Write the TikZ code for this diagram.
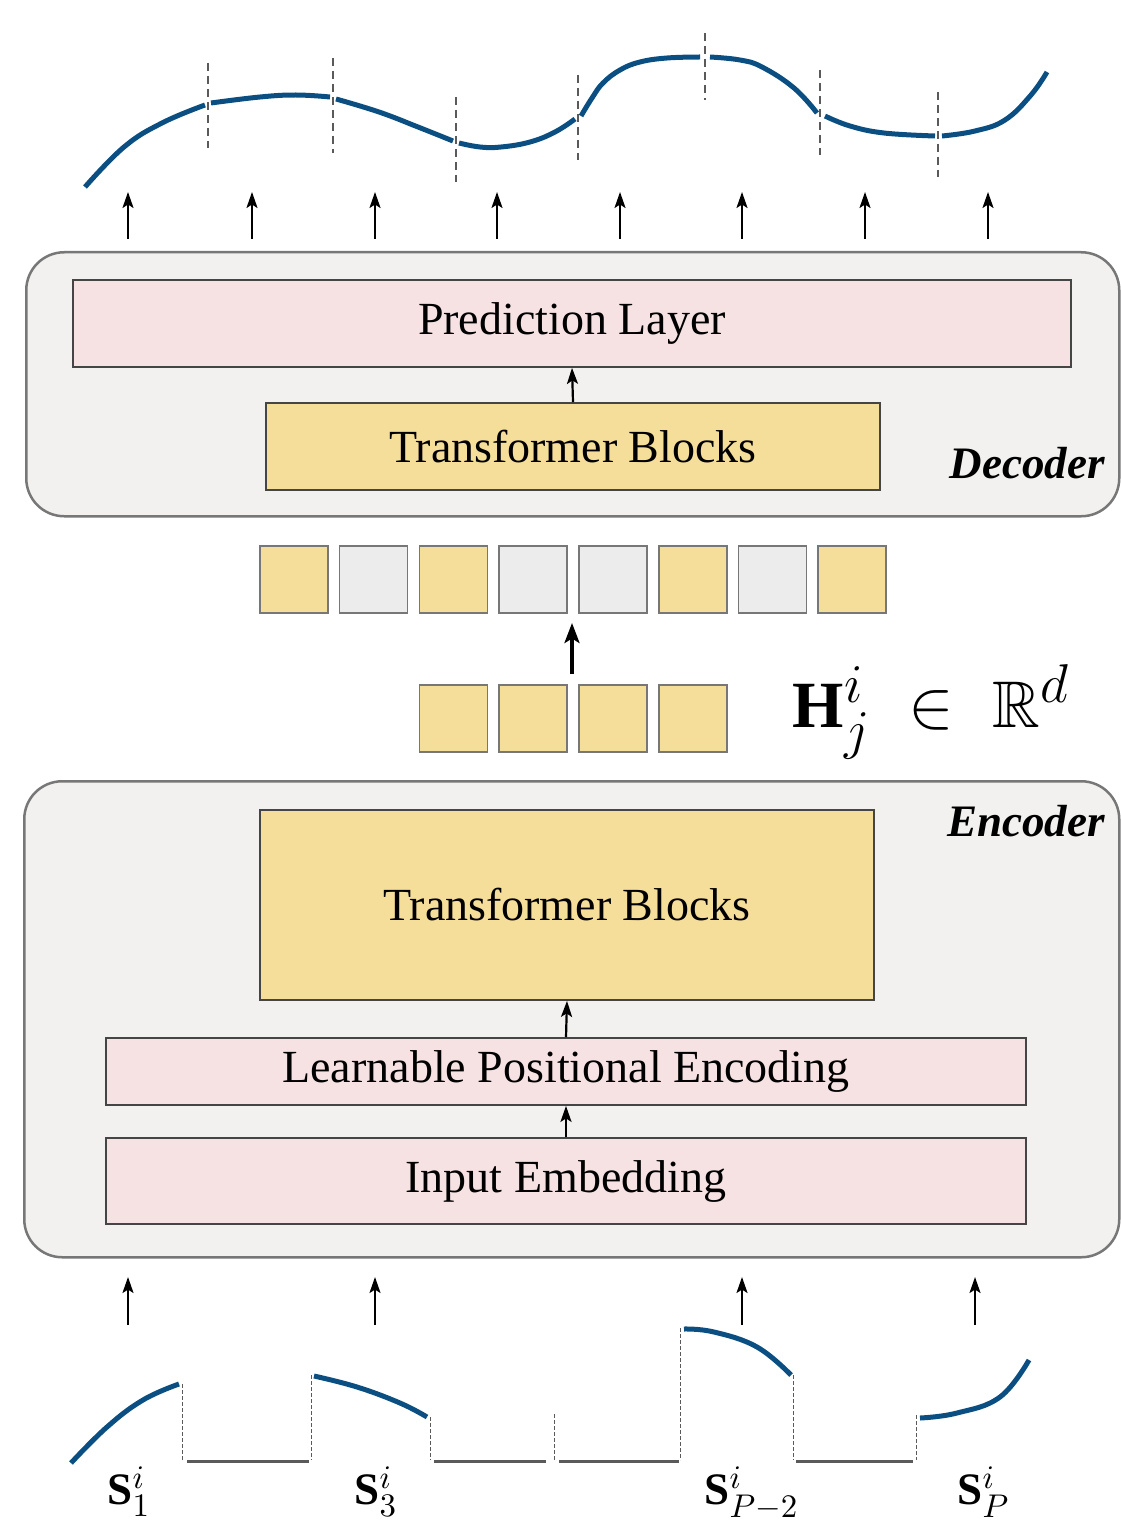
\documentclass[tikz,border=0pt]{standalone}
\usepackage{fontspec}
\usepackage{amssymb}
\setmainfont{Liberation Serif}
\usetikzlibrary{arrows.meta}
\definecolor{curveblue}{HTML}{0B4F82}
\definecolor{pinkfill}{HTML}{F6E1E3}
\definecolor{yellowfill}{HTML}{F5DE9A}
\definecolor{greytok}{HTML}{ECECEC}
\definecolor{panelfill}{HTML}{F2F1EF}
\definecolor{panelline}{HTML}{777777}
\definecolor{boxline}{HTML}{454545}
\definecolor{guide}{HTML}{5A5A5A}
\tikzset{
  panel/.style={draw=panelline, line width=2.5pt, fill=panelfill, rounded corners=38pt, anchor=north west, inner sep=0pt},
  layerbox/.style={draw=boxline, line width=1.8pt, inner sep=0pt, font=\fontsize{46}{54}\selectfont},
  pinkbox/.style={layerbox, fill=pinkfill},
  yellowbox/.style={layerbox, fill=yellowfill},
  tok/.style={draw=panelline, line width=1.2pt, minimum width=68pt, minimum height=67pt, inner sep=0pt},
  ytok/.style={tok, fill=yellowfill},
  gtok/.style={tok, fill=greytok},
  uparrow/.style={line width=2.2pt, -{Stealth[length=16pt, width=11pt, inset=3.5pt]}},
  seg/.style={curveblue, line width=5pt},
  cut/.style={guide, line width=2.5pt, dash pattern=on 8pt off 5pt},
  thincut/.style={guide, line width=1pt, dash pattern=on 4pt off 2pt},
  baseline seg/.style={guide, line width=3pt},
  tag/.style={font=\fontsize{45}{54}\selectfont\bfseries\itshape, anchor=base east, inner sep=0pt},
  % math labels are set at a moderate size and enlarged as a whole
  slab/.style={font=\fontsize{15}{18}\selectfont, scale=3, transform shape, anchor=base west, inner sep=0pt}
}
\begin{document}
\begin{tikzpicture}[x=1pt, y=-1pt]
\useasboundingbox (0,0) rectangle (1120,1522);

% ---------- decoder panel ----------
\node[panel, minimum width=1093pt, minimum height=264pt] (dec) at (25,251) {};
\node[pinkbox, minimum width=998pt, minimum height=87pt] (pl) at (572,323.5) {Prediction Layer};
\node[yellowbox, minimum width=614pt, minimum height=87pt] (tbd) at (573,446.5) {Transformer Blocks};
\draw[uparrow] (tbd.north) -- (pl.south);
\node[tag] (dectag) at (1105,478) {Decoder};

% ---------- encoder panel ----------
\node[panel, minimum width=1095pt, minimum height=476pt] (enc) at (23,780) {};
\node[yellowbox, minimum width=614pt, minimum height=190pt] (tbe) at (567,905) {Transformer Blocks};
\node[pinkbox, minimum width=920pt, minimum height=67pt] (lpe) at (566,1071.5) {Learnable Positional Encoding};
\node[pinkbox, minimum width=920pt, minimum height=86pt] (ie) at (566,1181) {Input Embedding};
\draw[uparrow] (lpe.north) -- (tbe.south);
\draw[uparrow] (ie.north) -- (lpe.south);
\node[tag] (enctag) at (1105,836) {Encoder};

% ---------- token rows ----------
\node[ytok] (m1) at (294,579.5) {};
\node[gtok] (m2) at (373.5,579.5) {};
\node[ytok] (m3) at (453.5,579.5) {};
\node[gtok] (m4) at (533,579.5) {};
\node[gtok] (m5) at (613,579.5) {};
\node[ytok] (m6) at (693,579.5) {};
\node[gtok] (m7) at (772.5,579.5) {};
\node[ytok] (m8) at (852,579.5) {};

\node[ytok] (h1) at (453.5,718.5) {};
\node[ytok] (h2) at (533,718.5) {};
\node[ytok] (h3) at (613,718.5) {};
\node[ytok] (h4) at (693,718.5) {};

\coordinate (midfrom) at (572,674);
\coordinate (midto) at (572,623);
\draw[line width=3.5pt, -{Stealth[length=20pt, width=15pt, inset=4.5pt]}] (midfrom) -- (midto);

\node[font=\fontsize{20}{24}\selectfont, scale=3.3, transform shape, anchor=base west, inner sep=0pt] (hvec) at (792,727)
  {$\textbf{H}^{\scalebox{1.15}{$\scriptstyle i$}}_{\scalebox{1.15}{$\scriptstyle j$}}\;\in\;\mathbb{R}^{\scalebox{1.15}{$\scriptstyle d$}}$};

% ---------- output arrows and reconstructed series ----------
\foreach \x [count=\k] in {128,252,375,497,620,742,865,988} {
  \coordinate (otail\k) at (\x,239);
  \coordinate (ohead\k) at (\x,192);
  \draw[uparrow] (otail\k) -- (ohead\k);
}

\draw[seg] plot[smooth, tension=0.7] coordinates {(85,187) (124,147) (162,123) (205,105)};
\draw[seg] plot[smooth, tension=0.7] coordinates {(211,103) (260,97) (296,95) (330,97)};
\draw[seg] plot[smooth, tension=0.7] coordinates {(336,99) (379,112) (418,127) (453,141)};
\draw[seg] plot[smooth, tension=0.7] coordinates {(459,143) (480,147) (501,147) (530,142) (555,132) (575,119)};
\draw[seg] plot[smooth, tension=0.7] coordinates {(581,116) (592,98) (603,83) (620,70) (640,62) (667,58) (700,57)};
\draw[seg] plot[smooth, tension=0.7] coordinates {(710,57) (740,60) (762,67) (794,88) (817,113)};
\draw[seg] plot[smooth, tension=0.7] coordinates {(825,116) (850,126) (884,133) (935,136)};
\draw[seg] plot[smooth, tension=0.7] coordinates {(942,136) (975,131) (1005,120) (1031,95) (1047,72)};

\foreach \x/\ya/\yb [count=\k] in {208/63/148, 333/58/153, 456/97/182, 578/75/160, 705/33/100, 820/70/155, 938/92/177} {
  \coordinate (ct\k) at (\x,\ya);
  \coordinate (cb\k) at (\x,\yb);
  \draw[cut] (ct\k) -- (cb\k);
}

% ---------- input arrows and patched series ----------
\foreach \x [count=\k] in {128,375,742,975} {
  \coordinate (itail\k) at (\x,1325);
  \coordinate (ihead\k) at (\x,1277);
  \draw[uparrow] (itail\k) -- (ihead\k);
}

\draw[seg] plot[smooth, tension=0.7] coordinates {(71,1463) (107,1427) (143,1400) (179,1384)};
\draw[seg] plot[smooth, tension=0.7] coordinates {(314,1376) (357,1387) (400,1403) (427,1417)};
\draw[seg] plot[smooth, tension=0.7] coordinates {(684,1329) (714,1332) (757,1347) (791,1375)};
\draw[seg] plot[smooth, tension=0.7] coordinates {(920,1418) (957,1413) (1000,1397) (1029,1360)};

\foreach \x/\ya [count=\k] in {182/1384, 311/1375, 430/1417, 554/1414, 680/1328, 793/1375, 916/1415} {
  \coordinate (pt\k) at (\x,\ya);
  \coordinate (pb\k) at (\x,1460);
  \draw[thincut] (pt\k) -- (pb\k);
}

\foreach \xa/\xb [count=\k] in {187/309, 434/546, 559/679, 796/913} {
  \coordinate (fl\k) at (\xa,1461);
  \coordinate (fr\k) at (\xb,1461);
  \draw[baseline seg] (fl\k) -- (fr\k);
}

\node[slab] (s1) at (107,1504) {\textbf{S}$^{i}_{1}$};
\node[slab] (s3) at (354,1504) {\textbf{S}$^{i}_{3}$};
\node[slab] (sp2) at (704,1504) {\textbf{S}$^{i}_{P-2}$};
\node[slab] (sp) at (957,1504) {\textbf{S}$^{i}_{P}$};
\end{tikzpicture}
\end{document}
